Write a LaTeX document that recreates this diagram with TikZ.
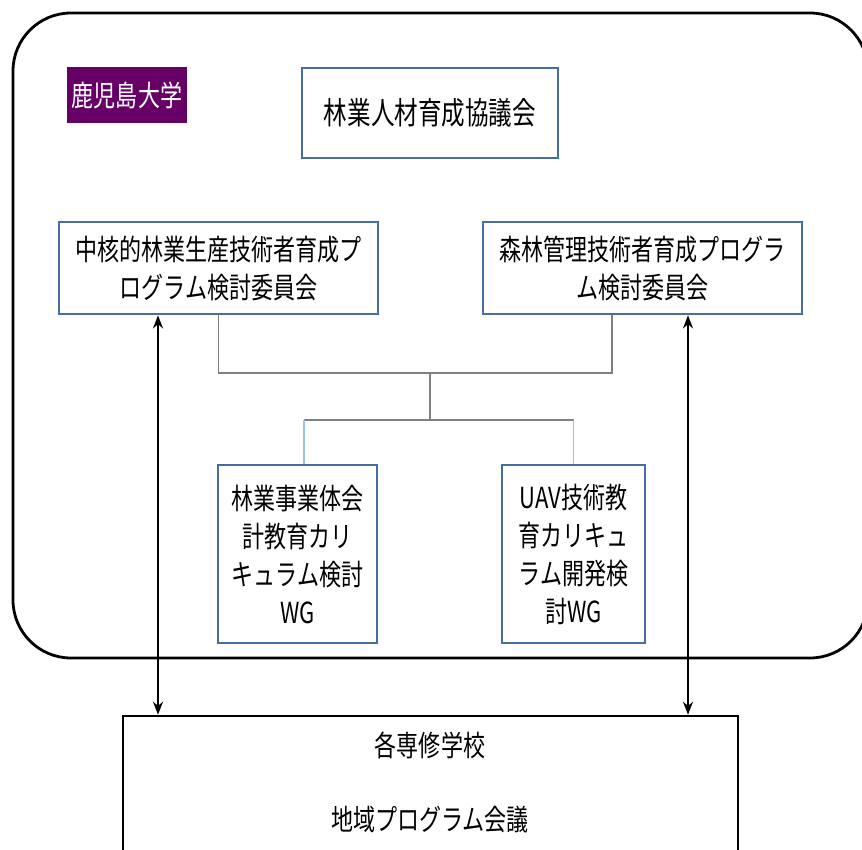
\documentclass[tikz,border=0pt]{standalone}
\usepackage{fontspec}
\usetikzlibrary{arrows.meta,calc}
\newfontfamily\jp[FakeStretch=0.76]{Noto Sans CJK JP}
\definecolor{boxblue}{RGB}{70,110,165}
\definecolor{univpurple}{RGB}{102,0,102}
\definecolor{lineblue}{RGB}{157,195,230}
\definecolor{conngray}{RGB}{128,128,128}
\tikzset{
  bluebox/.style={draw=boxblue, line width=2.8pt, fill=white, align=center, inner sep=0pt,
    font={\jp\fontsize{29}{38}\selectfont}},
  plaintext/.style={align=center, inner sep=0pt, font={\jp\fontsize{29}{38}\selectfont}},
  grayline/.style={draw=conngray, line width=1.6pt},
  blueline/.style={draw=lineblue, line width=1.2pt},
  dblarrow/.style={{Stealth[length=13pt,width=10pt]}-{Stealth[length=13pt,width=10pt]}, line width=2.4pt},
}
\begin{document}
\begin{tikzpicture}[x=1pt,y=-1pt]
\useasboundingbox (0,0) rectangle (862,850);
% outer rounded frame
\draw[line width=2.8pt, rounded corners=58pt] (13,13) rectangle (868,658);
% nodes
\node[fill=univpurple, text=white, minimum width=120pt, minimum height=56pt, inner sep=0pt,
  font={\jp\fontsize{29}{38}\selectfont}] (univ) at (127,95) {鹿児島大学};
\node[bluebox, minimum width=256pt, minimum height=90pt, font={\jp\fontsize{31}{38}\selectfont}] (council) at (430,113) {林業人材育成協議会};
\node[bluebox, minimum width=319pt, minimum height=92pt] (lbox) at (218.5,268) {中核的林業生産技術者育成プ\\ログラム検討委員会};
\node[bluebox, minimum width=319pt, minimum height=92pt] (rbox) at (642.5,268) {森林管理技術者育成プログラ\\ム検討委員会};
\node[bluebox, minimum width=159pt, minimum height=178pt] (wg1) at (297.5,554) {林業事業体会\\計教育カリ\\キュラム検討\\WG};
\node[bluebox, minimum width=143pt, minimum height=178pt] (wg2) at (573.5,554) {UAV技術教\\育カリキュ\\ラム開発検\\討WG};
\node[draw=black, line width=2.6pt, fill=white, minimum width=615pt, minimum height=160pt, inner sep=0pt] (school) at (430.5,796) {};
\node[plaintext] (t1) at (430,745) {各専修学校};
\node[plaintext] (t2) at (430,820) {地域プログラム会議};
% connectors
\coordinate (hub) at (430,373);
\coordinate (split) at (430,420);
\coordinate (rdrop) at ([xshift=-30.5pt]rbox.south);
\coordinate (wg1top) at ([xshift=6.5pt]wg1.north);
\coordinate (wg2top) at (wg2.north);
\draw[grayline] (lbox.south) |- (hub) -| (rdrop);
\draw[grayline] (hub) -- (split);
\draw[grayline] (wg1top |- split) -- (wg2top |- split);
\draw[blueline] (wg1top |- split) -- (wg1top);
\draw[blueline] (wg2top |- split) -- (wg2top);
% double arrows
\coordinate (la) at ([xshift=-60.5pt]lbox.south);
\coordinate (ra) at ([xshift=45.5pt]rbox.south);
\draw[dblarrow] (la) -- (la |- school.north);
\draw[dblarrow] (ra) -- (ra |- school.north);
\end{tikzpicture}
\end{document}
